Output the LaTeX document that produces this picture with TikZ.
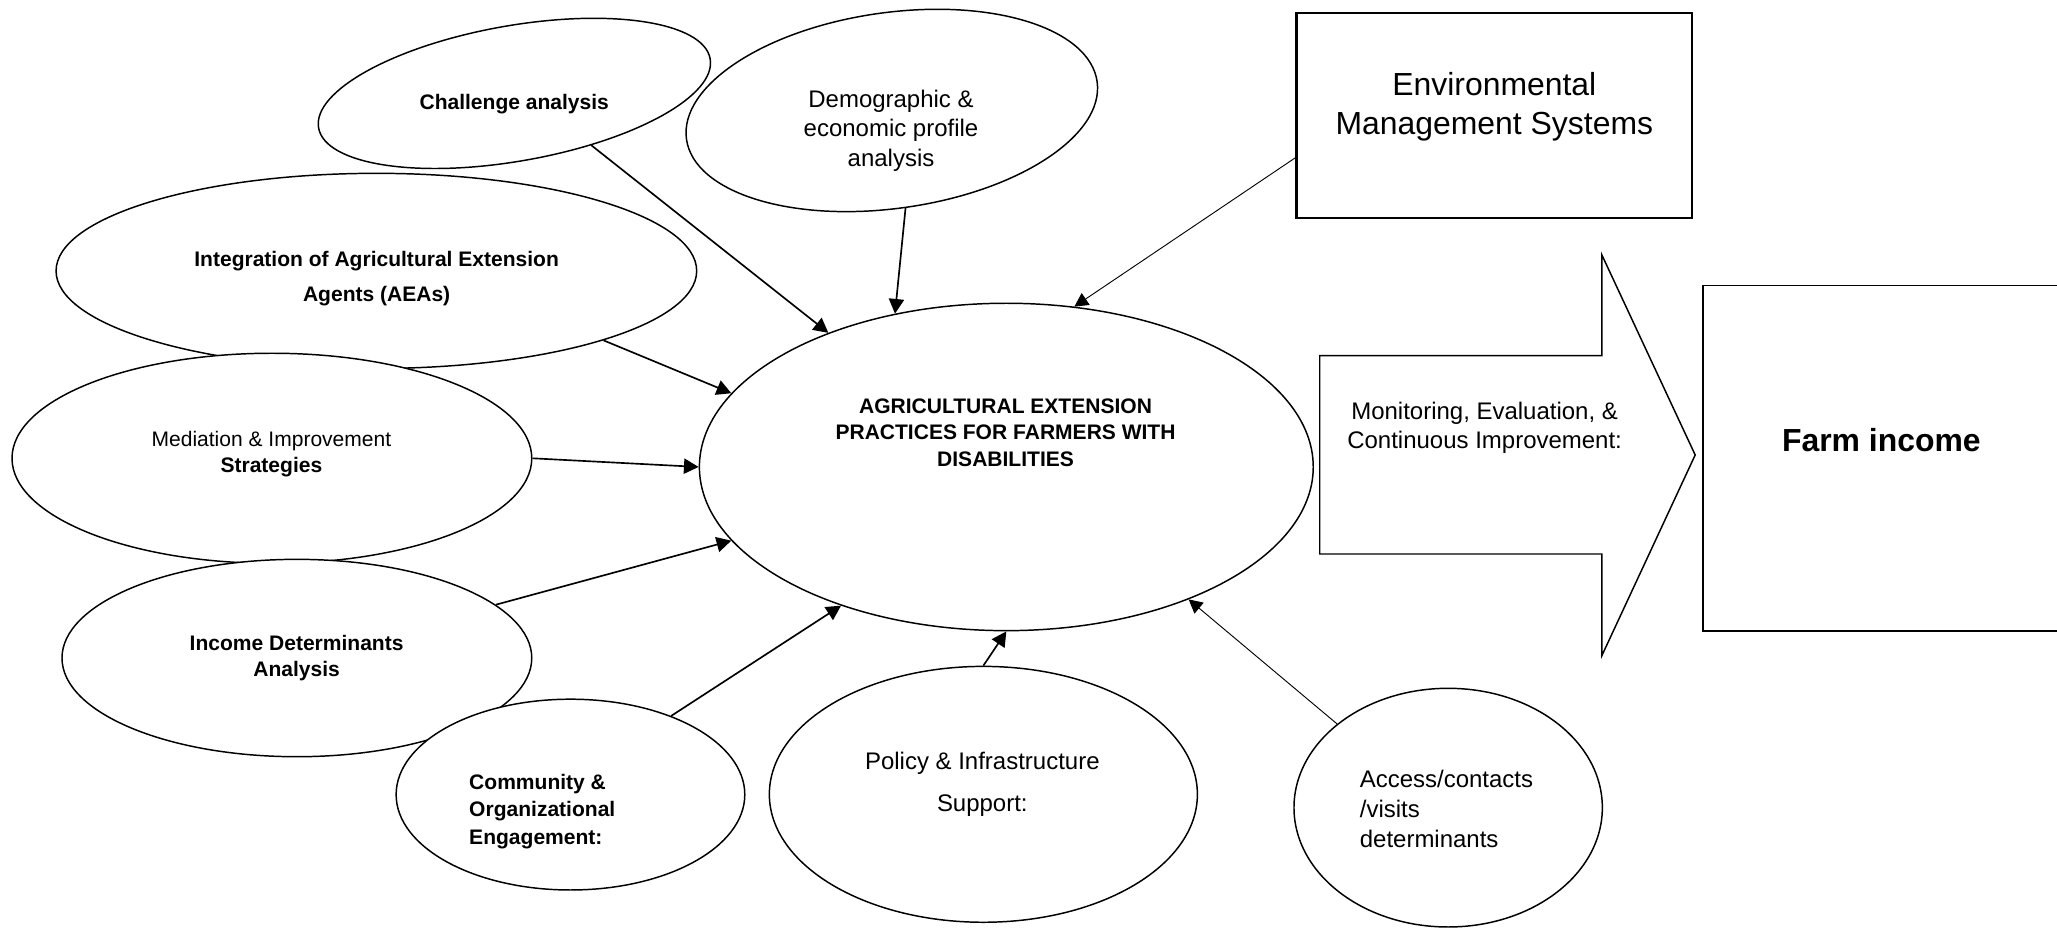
\documentclass[tikz,border=0pt]{standalone}
\usepackage{fontspec}
\setmainfont{Liberation Sans}
\usetikzlibrary{arrows.meta,shapes.geometric}
\tikzset{
  shp/.style={ellipse, draw, line width=0.8pt, inner sep=0pt, fill=white},
  arr/.style={line width=0.9pt, -{Triangle[length=2.8mm,width=2.9mm]}},
  thinarr/.style={line width=0.5pt, -{Triangle[length=2.6mm,width=2.7mm]}},
  txt/.style={inner sep=0pt, align=center},
  boxnode/.style={draw, inner sep=0pt},
}
\begin{document}
\begin{tikzpicture}[x=0.025cm,y=-0.025cm]
\path[use as bounding box] (0,0) rectangle (1568,708);
\clip (0,0) rectangle (1568,708);

% ellipses
\node[shp, minimum width=12.205cm, minimum height=3.7175cm] (integ) at (286.9,206.5) {};
\node[shp, minimum width=9.9025cm, minimum height=4.0025cm] (med) at (207.25,349.35) {};
\node[shp, minimum width=8.95cm, minimum height=3.76cm] (inc) at (226.3,501.6) {};
\node[shp, minimum width=6.6425cm, minimum height=3.635cm] (com) at (434.85,605.7) {};
\node[shp, minimum width=8.155cm, minimum height=4.875cm] (pol) at (749.6,605.5) {};
\node[shp, minimum width=5.875cm, minimum height=4.5475cm] (acc) at (1103.9,615.65) {};
\node[shp, minimum width=11.695cm, minimum height=6.2375cm] (cen) at (767.1,355.95) {};
\node[shp, fill=none, rotate=10, minimum width=7.575cm, minimum height=2.58cm] (chal) at (392.1,71.2) {};
\node[shp, fill=none, rotate=8, minimum width=7.9cm, minimum height=3.73cm] (dem) at (679.8,84.2) {};

% boxes
\node[boxnode, line width=1.3pt, minimum width=7.54cm, minimum height=3.9075cm] (env) at (1139.1,88.05) {};
\node[boxnode, line width=0.9pt, minimum width=7.17cm, minimum height=6.585cm] (farm) at (1441.6,349.3) {};

% block arrow
\draw[line width=0.8pt, line join=miter] (1006,271) -- (1221,271) -- (1221,194.2) -- (1292.2,346.8)
  -- (1221,499.9) -- (1221,422.3) -- (1006,422.3) -- cycle;

% texts
\node[txt, font=\fontsize{11.4}{13.7}\selectfont\bfseries] (t-chal) at (392,79.8) {\strut Challenge analysis};
\node[txt, font=\fontsize{13}{16.1}\selectfont] (t-dem) at (679.2,99.9) {\strut Demographic \&\\economic profile\\analysis\strut};
\node[txt, font=\fontsize{11.4}{19}\selectfont\bfseries] (t-integ) at (287.1,211.5) {\strut Integration of Agricultural Extension\\Agents (AEAs)\strut};
\node[txt, font=\fontsize{11.4}{14.1}\selectfont] (t-med) at (206.9,346.3) {\strut Mediation \& Improvement\\\textbf{Strategies}\strut};
\node[txt, font=\fontsize{11.4}{14.1}\selectfont\bfseries] (t-inc) at (226.1,501.8) {\strut Income Determinants\\Analysis\strut};
\node[txt, align=left, anchor=west, font=\fontsize{11.4}{14.8}\selectfont\bfseries] (t-com) at (357.4,618.4) {\strut Community \&\\Organizational\\Engagement:\strut};
\node[txt, font=\fontsize{13}{23}\selectfont] (t-pol) at (748.8,596.2) {\strut Policy \& Infrastructure\\Support:\strut};
\node[txt, align=left, anchor=west, font=\fontsize{13}{16.1}\selectfont] (t-acc) at (1036.3,618.7) {\strut Access/contacts\\/visits\\determinants\strut};
\node[txt, font=\fontsize{11.4}{14.4}\selectfont\bfseries] (t-cen) at (766.5,331.3) {\strut AGRICULTURAL EXTENSION\\PRACTICES FOR FARMERS WITH\\DISABILITIES\strut};
\node[txt, font=\fontsize{17.3}{21.5}\selectfont] (t-env) at (1139.1,81.7) {\strut Environmental\\Management Systems\strut};
\node[txt, font=\fontsize{13}{15.4}\selectfont] (t-mon) at (1131.7,326.6) {\strut Monitoring, Evaluation, \&\\Continuous Improvement:\strut};
\node[txt, font=\fontsize{17.3}{20.8}\selectfont\bfseries] (t-farm) at (1434.1,338.4) {\strut Farm income};

% connectors
\draw[arr] (chal.316) -- (cen.143);
\draw[arr] (dem.south) -- (cen.126);
\draw[thinarr] (env.192) -- (cen.67);
\draw[arr] (integ.343) -- (cen.165);
\draw[arr] (med.east) -- (cen.west);
\draw[arr] (inc.15) -- (cen.195);
\draw[arr] (com.38) -- (cen.220);
\draw[arr] (pol.north) -- (cen.south);
\draw[thinarr] (acc.143) -- (cen.324);
\end{tikzpicture}
\end{document}
